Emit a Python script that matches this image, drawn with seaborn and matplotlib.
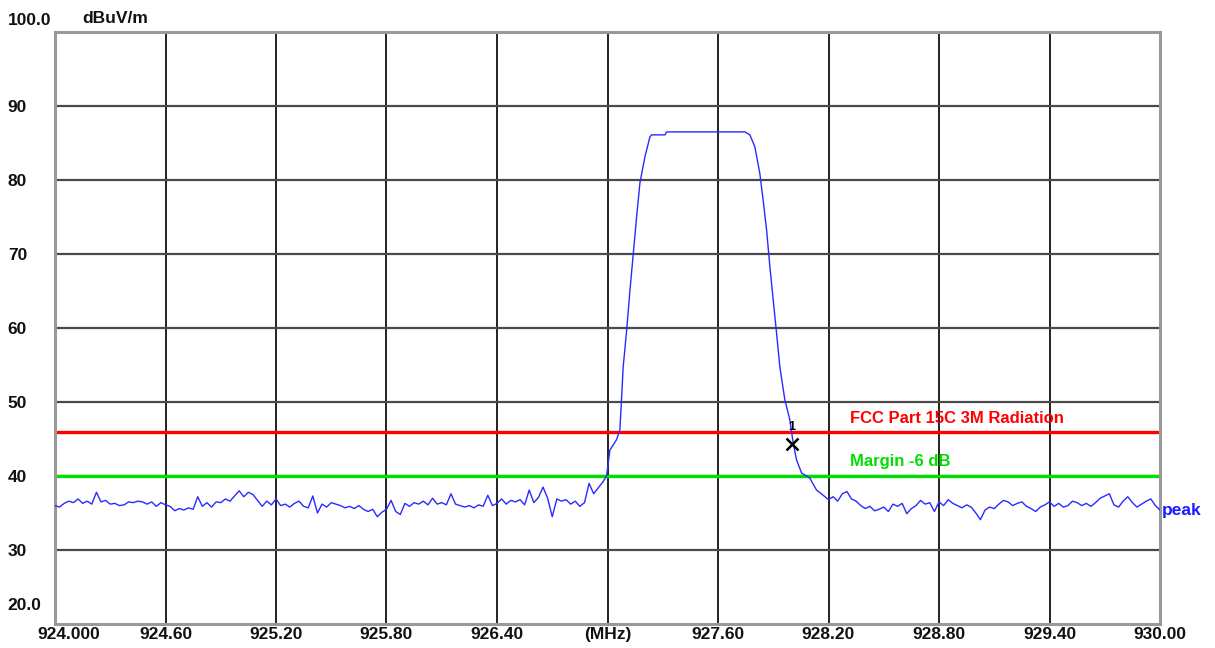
import numpy as np
import pandas as pd
import matplotlib
matplotlib.use("Agg")
import matplotlib.pyplot as plt
import matplotlib.transforms as mtransforms
import seaborn as sns

# ---------------- data ----------------
# sweep below the channel (924.000 .. 926.975 MHz, 0.025 MHz steps)
low_start, low_stop = 924.000, 926.975
low_levels = [
    36.0, 35.8, 36.3, 36.6, 36.4, 36.9, 36.3, 36.6, 36.2, 37.8,
    36.5, 36.7, 36.2, 36.3, 36.0, 36.1, 36.5, 36.4, 36.6, 36.5,
    36.2, 36.5, 35.9, 36.4, 36.1, 35.9, 35.3, 35.6, 35.4, 35.7,
    35.5, 37.2, 35.9, 36.4, 35.8, 36.5, 36.4, 36.9, 36.6, 37.3,
    38.0, 37.2, 37.8, 37.5, 36.7, 35.9, 36.6, 36.1, 36.9, 36.0,
    36.2, 35.8, 36.3, 36.6, 35.9, 35.7, 37.3, 35.0, 36.2, 35.8,
    36.4, 36.2, 36.0, 35.7, 35.9, 35.6, 36.0, 35.5, 35.2, 35.5,
    34.5, 35.1, 35.5, 36.7, 35.2, 34.8, 36.3, 35.9, 36.4, 36.2,
    36.6, 36.1, 37.0, 36.2, 36.4, 36.1, 37.6, 36.2, 36.0, 35.8,
    36.0, 35.7, 36.1, 35.9, 37.4, 36.0, 36.3, 36.9, 36.2, 36.7,
    36.5, 36.8, 36.1, 38.1, 36.4, 37.1, 38.5, 37.0, 34.5, 36.9,
    36.6, 36.8, 36.2, 36.6, 35.9, 36.4, 39.0, 37.6, 38.4, 39.2,
]
# occupied channel (read point by point)
band_freqs = [
    926.995, 927.013, 927.049, 927.067, 927.076, 927.085, 927.104, 927.122,
    927.140, 927.158, 927.176, 927.203, 927.230, 927.239, 927.312, 927.321,
    927.500, 927.746, 927.773, 927.800, 927.827, 927.845, 927.864, 927.882,
    927.900, 927.918, 927.936, 927.963, 927.990, 928.008, 928.026, 928.054,
    928.099, 928.135, 928.171,
]
band_levels = [
    40.0, 43.5, 44.9, 46.2, 50.3, 54.7, 59.7, 65.1,
    70.1, 75.0, 79.6, 83.1, 85.8, 86.1, 86.1, 86.5,
    86.5, 86.5, 86.1, 84.5, 80.9, 77.3, 73.2, 68.2,
    63.8, 59.3, 54.7, 50.3, 47.6, 44.5, 42.2, 40.4,
    39.7, 38.1, 37.4,
]
# sweep above the channel (928.200 .. 930.000 MHz, 0.025 MHz steps)
high_start, high_stop = 928.200, 930.000
high_levels = [
    36.8, 37.2, 36.6, 37.6, 37.9, 36.9, 36.6, 36.0, 35.6, 35.9,
    35.3, 35.5, 35.8, 35.2, 36.2, 35.9, 36.3, 34.9, 35.6, 36.0,
    36.7, 36.2, 36.4, 35.2, 36.5, 36.0, 36.8, 36.3, 36.0, 35.7,
    36.1, 35.8, 35.0, 34.1, 35.4, 35.8, 35.6, 36.2, 36.7, 36.5,
    36.0, 36.3, 36.5, 35.9, 35.6, 35.2, 35.8, 36.1, 36.5, 35.9,
    36.3, 35.8, 36.0, 36.6, 36.4, 36.0, 36.3, 35.9, 36.4, 37.0,
    37.3, 37.6, 36.1, 35.8, 36.6, 37.2, 36.4, 35.8, 36.2, 36.6,
    36.9, 36.0, 35.4,
]
limit_level = 46.0
margin_level = 40.0
limit_label = "FCC Part 15C 3M Radiation"
margin_label = "Margin -6 dB"
marker_freq, marker_level = 928.00, 44.3

x_ticks = [924.0, 924.6, 925.2, 925.8, 926.4, 927.0, 927.6, 928.2, 928.8, 929.4, 930.0]
x_tick_labels = ["924.000", "924.60", "925.20", "925.80", "926.40", "(MHz)",
                 "927.60", "928.20", "928.80", "929.40", "930.00"]
y_ticks = [20, 30, 40, 50, 60, 70, 80, 90, 100]
y_tick_labels = ["20.0", "30", "40", "50", "60", "70", "80", "90", "100.0"]

low_freqs = np.linspace(low_start, low_stop, len(low_levels))
high_freqs = np.linspace(high_start, high_stop, len(high_levels))
df = pd.DataFrame({
    "freq": np.concatenate([low_freqs, band_freqs, high_freqs]),
    "level": np.concatenate([low_levels, band_levels, high_levels]),
})

# ---------------- plot ----------------
sns.set_theme(style="white")
plt.rcParams["font.family"] = ["Liberation Sans", "DejaVu Sans"]

fig = plt.figure(figsize=(12.15, 6.48), dpi=100)
ax = fig.add_axes([55 / 1215, 1 - 624 / 648, (1160 - 55) / 1215, (624 - 32) / 648])

ax.set_xlim(924.0, 930.0)
ax.set_ylim(20, 100)
ax.set_xticks(x_ticks)
ax.set_yticks(y_ticks)
ax.set_xticklabels(x_tick_labels, fontsize=12.5, fontweight="bold", color="#111111")
ax.set_yticklabels(y_tick_labels, fontsize=12.5, fontweight="bold", color="#111111",
                   ha="left")
ax.tick_params(axis="both", length=0)
ax.tick_params(axis="x", pad=2)
ax.tick_params(axis="y", pad=34)

# gridlines
for xv in x_ticks[1:-1]:
    ax.axvline(xv, color="#111111", lw=1.3, zorder=1)
for yv in y_ticks[1:-1]:
    ax.axhline(yv, color="#4a4a4a", lw=1.6, zorder=1)

for sp in ax.spines.values():
    sp.set_color("#999999")
    sp.set_linewidth(2.2)

# shift the extreme tick labels like the analyser print-out
ylabels = ax.get_yticklabels()
ylabels[0].set_transform(ylabels[0].get_transform() +
                         mtransforms.ScaledTranslation(0, 20 / 100, fig.dpi_scale_trans))
ylabels[-1].set_transform(ylabels[-1].get_transform() +
                          mtransforms.ScaledTranslation(0, 13 / 100, fig.dpi_scale_trans))
xlabels = ax.get_xticklabels()
xlabels[0].set_transform(xlabels[0].get_transform() +
                         mtransforms.ScaledTranslation(14 / 100, 0, fig.dpi_scale_trans))

# limit lines
ax.axhline(limit_level, color="#ff0000", lw=2.4, zorder=2)
ax.axhline(margin_level, color="#00e000", lw=2.4, zorder=2)
ax.text(928.316, limit_level + 1.8, limit_label, color="#ff0000", fontsize=12,
        fontweight="bold", va="center", ha="left")
ax.text(928.316, margin_level + 1.9, margin_label, color="#00dd00", fontsize=12,
        fontweight="bold", va="center", ha="left")

# trace
sns.lineplot(data=df, x="freq", y="level", ax=ax, color="#2a2aff", lw=1.0,
             estimator=None, sort=False, zorder=3)
ax.set_xlabel("")
ax.set_ylabel("")

# marker
ax.plot([marker_freq], [marker_level], marker="x", color="black", ms=8, mew=1.8,
        zorder=4, linestyle="none")
ax.text(marker_freq, marker_level + 2.3, "1", color="black", fontsize=9,
        fontweight="bold", ha="center", va="center", zorder=4)

ax.text(930.01, df["level"].iloc[-1], "peak", color="#1a1aff", fontsize=12.5,
        fontweight="bold", ha="left", va="center", clip_on=False)
ax.text(0.025, 1.0236, "dBuV/m", transform=ax.transAxes, fontsize=12.5,
        fontweight="bold", ha="left", va="center", color="#111111")

fig.savefig("out.png", dpi=100, facecolor="white")
